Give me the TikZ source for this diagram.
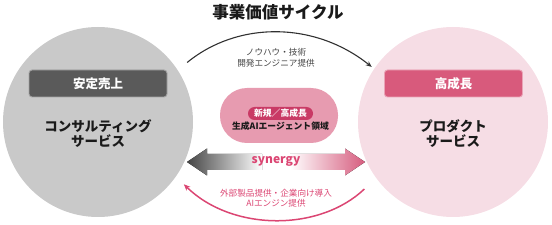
\documentclass[tikz,border=0pt]{standalone}
\usepackage{fontspec}
\setmainfont{Noto Sans CJK JP}
\usepackage{xcolor}
\usetikzlibrary{arrows.meta,positioning,calc}
\definecolor{ink}{HTML}{1A1A1A}
\definecolor{inkgray}{HTML}{444444}
\definecolor{stonebg}{HTML}{C9C9C9}
\definecolor{rosebg}{HTML}{F6DDE5}
\definecolor{stonetag}{HTML}{5A5A5A}
\definecolor{rosetag}{HTML}{D85A7C}
\definecolor{rosepill}{HTML}{E79BB0}
\definecolor{rosebadge}{HTML}{C93A65}
\definecolor{roseink}{HTML}{DB4673}
\definecolor{synleft}{HTML}{454545}
\definecolor{synright}{HTML}{D65C7E}
\tikzset{
  bigcircle/.style={circle,minimum size=190pt,inner sep=0pt},
  titletext/.style={font=\fontsize{16.5}{18}\selectfont\bfseries,text=ink},
  tagbox/.style={rounded corners=3pt,line width=0.9pt,minimum width=138pt,
                 minimum height=27pt,inner sep=0pt,text=white,
                 font=\fontsize{12.5}{14}\selectfont\bfseries},
  bigtext/.style={align=center,text=ink,
                  font=\fontsize{13.5}{15.5}\selectfont\bfseries},
  pill/.style={fill=rosepill,rounded corners=27pt,minimum width=118pt,
               minimum height=55pt,inner sep=0pt},
  badge/.style={fill=rosebadge,rounded corners=6.5pt,minimum width=65pt,
                minimum height=13pt,inner sep=0pt,text=white,
                font=\fontsize{8.8}{10}\selectfont\bfseries},
  smalltext/.style={align=center,font=\fontsize{8.6}{10.5}\selectfont},
  darkarr/.style={-{Stealth[length=6pt,width=5pt]},line width=1.1pt,
                  draw=ink!90},
  pinkarr/.style={-{Stealth[length=6.5pt,width=5.5pt]},line width=1.5pt,
                  draw=roseink}
}
\begin{document}
\begin{tikzpicture}[x=1pt,y=1pt]
    \path[use as bounding box] (0,0) rectangle (552,225);
    \node[bigcircle,fill=stonebg] (consult) at (98,103) {};
    \node[bigcircle,fill=rosebg] (product) at (453,103) {};
    \node[titletext] (title) at (278,213) {事業価値サイクル};

    \node[tagbox,fill=stonetag,draw=stonetag!55!white] (stable) at (98,141.5)
      {安定売上};
    \node[tagbox,fill=rosetag,draw=rosetag!55!white] (growth) at (453.5,141.5)
      {高成長};
    \node[bigtext] (consulttext) at (98,91.5) {コンサルティング\\サービス};
    \node[bigtext] (producttext) at (453,91.5) {プロダクト\\サービス};

    \node[pill] (genai) at (279,109.5) {};
    \node[badge] (newarea) at (280.5,111.5) {新規／高成長};
    \node[font=\fontsize{8.8}{10}\selectfont\bfseries,text=ink] (genaitext)
      at (280.5,99) {生成AIエージェント領域};

    % synergy double arrow
    \fill[left color=synleft,right color=white]
      (187,63) -- (207,76.5) -- (207,71) -- (262,71) -- (262,55)
      -- (207,55) -- (207,49.5) -- cycle;
    \fill[left color=white,right color=synright]
      (365,63) -- (345,76.5) -- (345,71) -- (290,71) -- (290,55)
      -- (345,55) -- (345,49.5) -- cycle;
    \node[font=\fontsize{12}{14}\selectfont\bfseries,text=roseink] (syn)
      at (276,64) {synergy};

    \draw[darkarr,shorten <=12pt,shorten >=3pt]
      (consult.33) to[bend left=39] (product.146);
    \node[smalltext,text=inkgray] (knowhow) at (276,167)
      {ノウハウ・技術\\開発エンジニア提供};

    \draw[pinkarr,shorten <=16pt,shorten >=11pt]
      (product.216) to[bend left=44] (consult.325);
    \node[smalltext,text=roseink] (engine) at (276,27)
      {外部製品提供・企業向け導入\\AIエンジン提供};
  \end{tikzpicture}
\end{document}
